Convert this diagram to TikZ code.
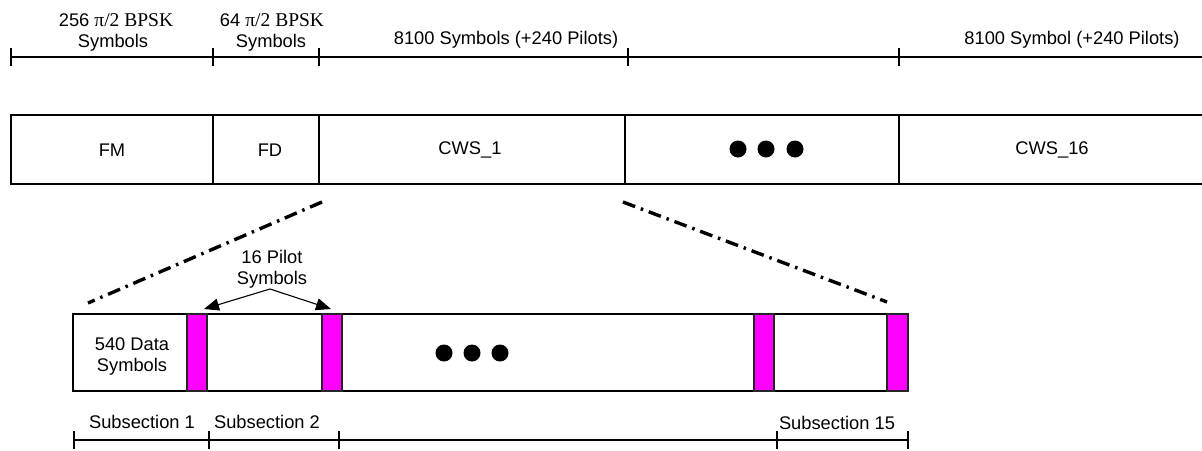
\documentclass[tikz,border=0pt]{standalone}
\usepackage{fontspec}
\setmainfont{Liberation Sans}
\newfontfamily\serifrm{Liberation Serif}
\usetikzlibrary{arrows.meta}
\definecolor{pilotpink}{RGB}{255,0,255}
\begin{document}
\begin{tikzpicture}[x=1pt,y=-1pt,
  lbl/.style={font=\fontsize{18.3}{21}\selectfont, inner sep=0pt, align=center},
  ruler/.style={line width=1.4pt},
  barline/.style={line width=1.8pt},
  subbar/.style={line width=1.3pt},
  pilot/.style={fill=pilotpink, draw=black!85, line width=1.1pt},
  dashdot/.style={line width=3.4pt, dash pattern=on 13pt off 6pt on 2.5pt off 6pt},
  bigdot/.style={circle, fill=black, minimum size=17pt, inner sep=0pt},
  pointer/.style={line width=1.1pt, -{Triangle[length=15pt,width=12pt]}}
]
\useasboundingbox (0,0) rectangle (1202,450);

% top ruler
\coordinate (r0) at (11,57);
\coordinate (rEnd) at (1210,57);
\draw[ruler] (r0) -- (rEnd);
\foreach \x in {11,213,319,628,899}{
  \draw[ruler] (\x,48) -- (\x,66);
}
\node[lbl] (t1a) at (116,20) {256 {\serifrm\fontsize{19.5}{21}\selectfont π/2 BPSK}};
\node[lbl] (t1b) at (113,43) {Symbols};
\node[lbl] (t2a) at (272,20) {64 {\serifrm\fontsize{19.5}{21}\selectfont π/2 BPSK}};
\node[lbl] (t2b) at (271,43) {Symbols};
\node[lbl] (t3) at (506,40) {8100 Symbols (+240 Pilots)};
\node[lbl] (t4) at (1072,40) {8100 Symbol (+240 Pilots)};

% main bar
\draw[barline] (1215,115) -- (11,115) -- (11,184) -- (1215,184);
\draw[barline] (213,115) -- (213,184);
\draw[line width=2.6pt] (319,115) -- (319,184);
\draw[barline] (625,115) -- (625,184);
\draw[barline] (899,115) -- (899,184);
\node[lbl] (fm) at (112,150) {FM};
\node[lbl] (fd) at (270,150) {FD};
\node[lbl] (cws1) at (470,150) {CWS\_1};
\node[bigdot] (d1) at (738,149) {};
\node[bigdot] (d2) at (766,149) {};
\node[bigdot] (d3) at (795,149) {};
\node[lbl] (cws16) at (1052,150) {CWS\_16};

% zoom lines
\coordinate (zl1) at (322,202);
\coordinate (zl2) at (88,303);
\coordinate (zr1) at (623,202);
\coordinate (zr2) at (887,302);
\draw[dashdot] (zl1) -- (zl2);
\draw[dashdot] (zr1) -- (zr2);

% lower bar
\draw[subbar] (73,314) rectangle (908,391);
\draw[pilot] (187,314) rectangle (207,391);
\draw[pilot] (322,314) rectangle (342,391);
\draw[pilot] (754,314) rectangle (774,391);
\draw[pilot] (887,314) rectangle (908,391);
\node[lbl] (data) at (132,357) {540 Data\\Symbols};
\node[bigdot] (e1) at (444,353) {};
\node[bigdot] (e2) at (472,353) {};
\node[bigdot] (e3) at (500,353) {};

% pilot label and arrows
\node[lbl] (pl) at (272,269) {16 Pilot\\Symbols};
\coordinate (pa) at (270,289);
\coordinate (pt1) at (204,309);
\coordinate (pt2) at (331,309);
\draw[pointer] (pa) -- (pt1);
\draw[pointer] (pa) -- (pt2);

% bottom ruler
\draw[ruler] (74,440) -- (908,440);
\foreach \x in {74,209,339,777,908}{
  \draw[ruler] (\x,431) -- (\x,449);
}
\node[lbl] (s1) at (142,422) {Subsection 1};
\node[lbl] (s2) at (267,422) {Subsection 2};
\node[lbl] (s15) at (837,423) {Subsection 15};
\end{tikzpicture}
\end{document}
